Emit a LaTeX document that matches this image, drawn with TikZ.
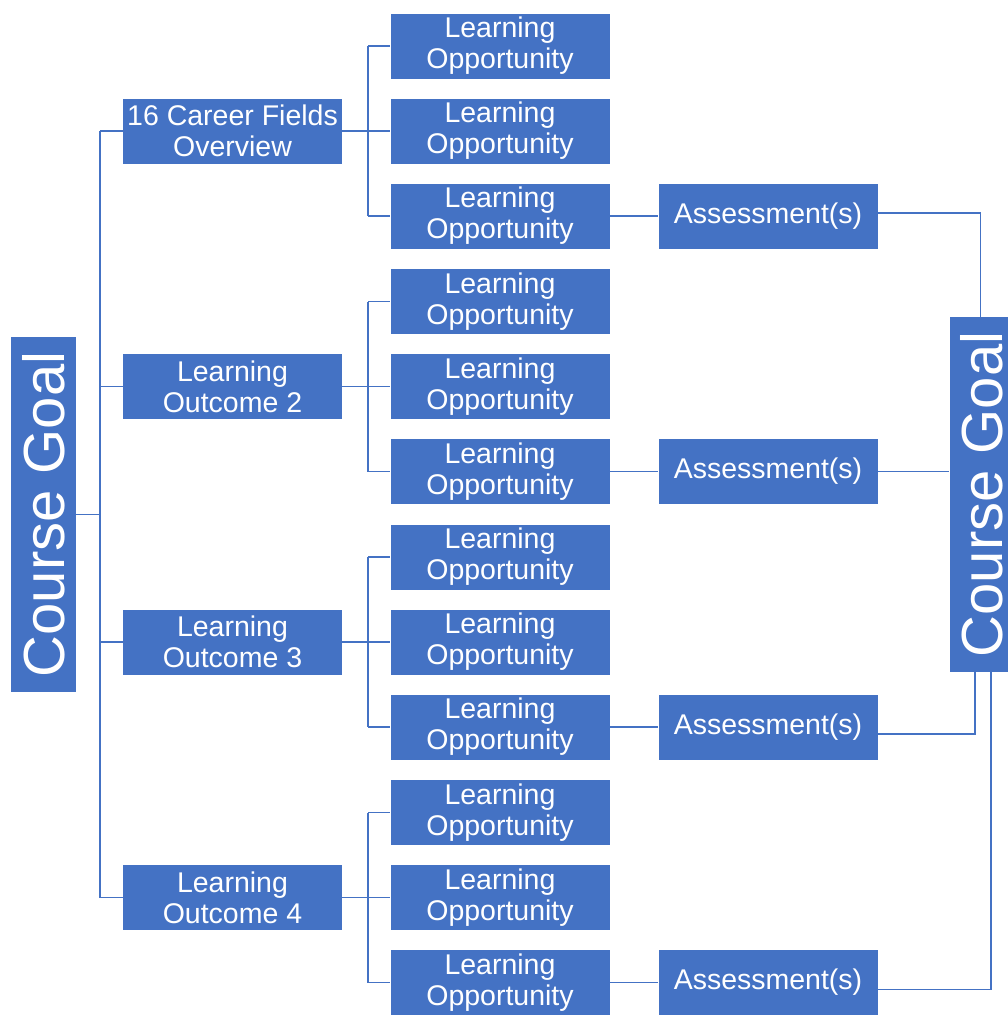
\documentclass[tikz,border=0pt]{standalone}
\usepackage{fontspec}
\setmainfont{Liberation Sans}
\definecolor{ob}{HTML}{4472C4}
\begin{document}
\begin{tikzpicture}[x=1pt,y=-1pt,
  box/.style={fill=ob, text=white, inner sep=0pt, align=center,
    font=\fontsize{28.5}{31}\selectfont, minimum width=219pt, minimum height=65pt},
  goal/.style={fill=ob, text=white, inner sep=0pt, align=center,
    font=\fontsize{58}{60}\selectfont, minimum width=65pt, minimum height=355pt},
  conn/.style={draw=ob, line width=1.9pt}]
\useasboundingbox (0,0) rectangle (1008,1015);

% course goals
\node[goal] (cg1) at (43.5,514.5) {\rotatebox{90}{Course Goal}};
\node[goal] (cg2) at (982,494.5) {\rotatebox{90}{Course Goal}};

% level 1
\node[box] (l1) at (232.5,131) {16 Career Fields\\Overview};
\node[box] (l2) at (232.5,386.5) {Learning\\Outcome 2};
\node[box] (l3) at (232.5,642) {Learning\\Outcome 3};
\node[box] (l4) at (232.5,897.5) {Learning\\Outcome 4};

% learning opportunities
\foreach \i/\y in {1/131,2/386.5,3/642,4/897.5}{
  \node[box] (lo\i a) at (500,\y-85) {Learning\\Opportunity};
  \node[box] (lo\i b) at (500,\y) {Learning\\Opportunity};
  \node[box] (lo\i c) at (500,\y+85) {Learning\\Opportunity};
  \node[box] (as\i) at (768,\y+85) {Assessment(s)};
}

% left trunk
\coordinate (t1) at (100,0);
\draw[conn] (cg1.east) -- (cg1.east -| t1);
\draw[conn] (l1.west -| t1) -- (l4.west -| t1);
\foreach \i in {1,2,3,4}{
  \draw[conn] (l\i.west -| t1) -- (l\i.west);
}

% second level
\coordinate (t2) at (368,0);
\foreach \i in {1,2,3,4}{
  \draw[conn] (l\i.east) -- (lo\i b.west);
  \draw[conn] (lo\i a.west -| t2) -- (lo\i c.west -| t2);
  \draw[conn] (lo\i a.west -| t2) -- (lo\i a.west);
  \draw[conn] (lo\i c.west -| t2) -- (lo\i c.west);
  \draw[conn] (lo\i c.east) -- (as\i.west);
}

% assessments to right goal
\coordinate (r1) at (980.5,0);
\coordinate (r3) at (975,0);
\coordinate (r4) at (991,0);
\draw[conn] ([yshift=3pt]as1.east) -- ([yshift=3pt]as1.east -| r1) -- (r1 |- cg2.north);
\draw[conn] (as2.east) -- (as2.east -| cg2.west);
\draw[conn] ([yshift=-7pt]as3.east) -- ([yshift=-7pt]as3.east -| r3) -- (r3 |- cg2.south);
\draw[conn] ([yshift=-7pt]as4.east) -- ([yshift=-7pt]as4.east -| r4) -- (r4 |- cg2.south);
\end{tikzpicture}
\end{document}
